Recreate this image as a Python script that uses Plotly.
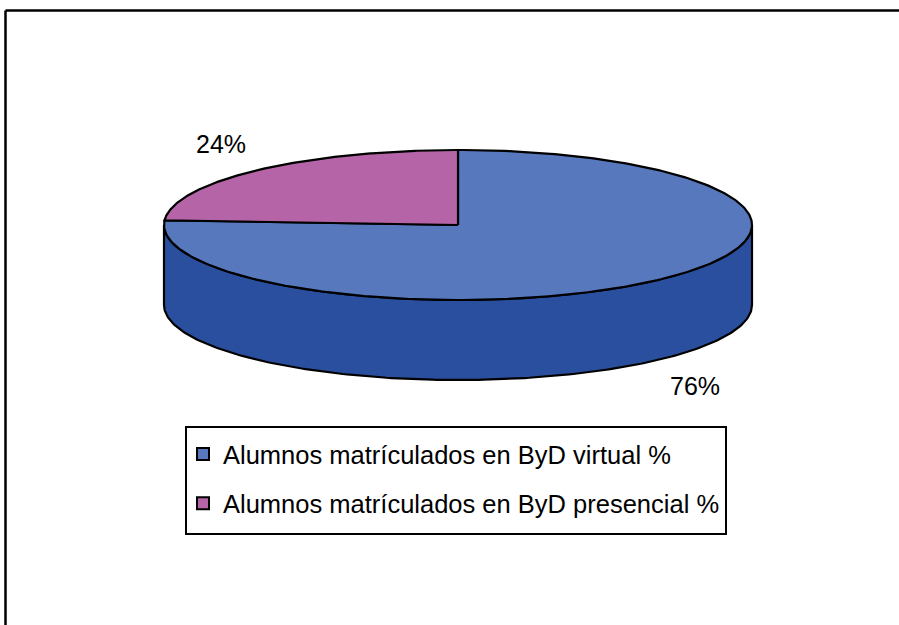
import numpy as np
import plotly.graph_objects as go

# ---- data ----
categories = ["Alumnos matrículados en ByD virtual %", "Alumnos matrículados en ByD presencial %"]
values = [76, 24]
labels = ["76%", "24%"]
top_colors = ["#5878BE", "#B565A7"]
side_colors = ["#2B4F9F", "#7D3A72"]

# ---- geometry of the 3-D pie (layout parameters, in page pixels) ----
W, H = 899, 625
cx, cy = 458, 225      # centre of top ellipse
a, b = 294, 75         # semi-axes
depth = 80             # thickness
start = 90.0           # slices begin at 12 o'clock

def pt(theta_deg, dz=0.0):
    t = np.radians(theta_deg)
    return cx + a * np.cos(t), cy - b * np.sin(t) + dz

fig = go.Figure()

total = float(sum(values))
span = [v / total * 360.0 for v in values]
slices = [
    (start - span[0], start),  # virtual (clockwise from 12 o'clock)
    (start, start + span[1]),  # presencial (counter-clockwise)
]

# side walls (front half only: angles 180..360)
for i, (t0, t1) in enumerate(slices):
    for shift in (0, 360, -360):
        lo, hi = t0 + shift, t1 + shift
        s0, s1 = max(lo, 180.0), min(hi, 360.0)
        if s1 - s0 > 0.5:
            th = np.linspace(s0, s1, 200)
            xs_top, ys_top = pt(th)
            xs_bot, ys_bot = pt(th[::-1], depth)
            xs = np.concatenate([xs_top, xs_bot, xs_top[:1]])
            ys = np.concatenate([ys_top, ys_bot, ys_top[:1]])
            fig.add_trace(go.Scatter(x=xs, y=ys, mode="lines", fill="toself",
                                     fillcolor=side_colors[i],
                                     line=dict(color="black", width=2.2),
                                     hoverinfo="skip", showlegend=False))

# top faces
for i, (t0, t1) in enumerate(slices):
    th = np.linspace(t0, t1, 300)
    xe, ye = pt(th)
    xs = np.concatenate([[cx], xe, [cx]])
    ys = np.concatenate([[cy], ye, [cy]])
    fig.add_trace(go.Scatter(x=xs, y=ys, mode="lines", fill="toself",
                             fillcolor=top_colors[i],
                             line=dict(color="black", width=2.2),
                             hoverinfo="skip", showlegend=False))

# data labels, placed outside along the mid-angle
kx, ky = 1.18, 1.48
for i, (t0, t1) in enumerate(slices):
    mid = np.radians((t0 + t1) / 2.0)
    lx = cx + a * kx * np.cos(mid)
    ly = cy - b * ky * np.sin(mid) + (depth if np.sin(mid) < 0 else 0)
    fig.add_annotation(x=lx, y=ly, text=labels[i], showarrow=False,
                       font=dict(size=25, color="black",
                                 family="Liberation Sans, Arial, sans-serif"))

# legend entries
for i, name in enumerate(categories):
    fig.add_trace(go.Scatter(x=[None], y=[None], mode="markers", name=name,
                             legendgroup=f"g{i}",
                             marker=dict(symbol="square", size=14, color=top_colors[i],
                                         line=dict(color="black", width=1.5))))

# outer chart frame (only left and top edges fall inside the page)
fig.add_shape(type="line", xref="x", yref="y", x0=5.5, y0=10.5, x1=5.5, y1=H,
              line=dict(color="black", width=2.5))
fig.add_shape(type="line", xref="x", yref="y", x0=5.5, y0=10.5, x1=W, y1=10.5,
              line=dict(color="black", width=2.5))
# legend frame
fig.add_shape(type="rect", xref="x", yref="y", x0=186, y0=427, x1=726, y1=534,
              line=dict(color="black", width=2), fillcolor="white", layer="above")

fig.update_layout(
    width=W, height=H,
    margin=dict(l=0, r=0, t=0, b=0),
    paper_bgcolor="white", plot_bgcolor="white",
    hovermode=False,
    xaxis=dict(range=[0, W], visible=False, fixedrange=True),
    yaxis=dict(range=[H, 0], visible=False, fixedrange=True),
    showlegend=True,
    legend=dict(x=183 / W, y=1 - 431 / H,
                xanchor="left", yanchor="top",
                borderwidth=0, bgcolor="rgba(0,0,0,0)",
                font=dict(size=25.5, color="black",
                          family="Liberation Sans, Arial, sans-serif"),
                tracegroupgap=13, itemsizing="constant"),
)

fig.write_html(
    "out.html", config={"displayModeBar": False},
    post_script=("document.body.style.margin='0';"
                 "document.body.style.overflow='hidden';"
                 "document.documentElement.style.overflow='hidden';"))
